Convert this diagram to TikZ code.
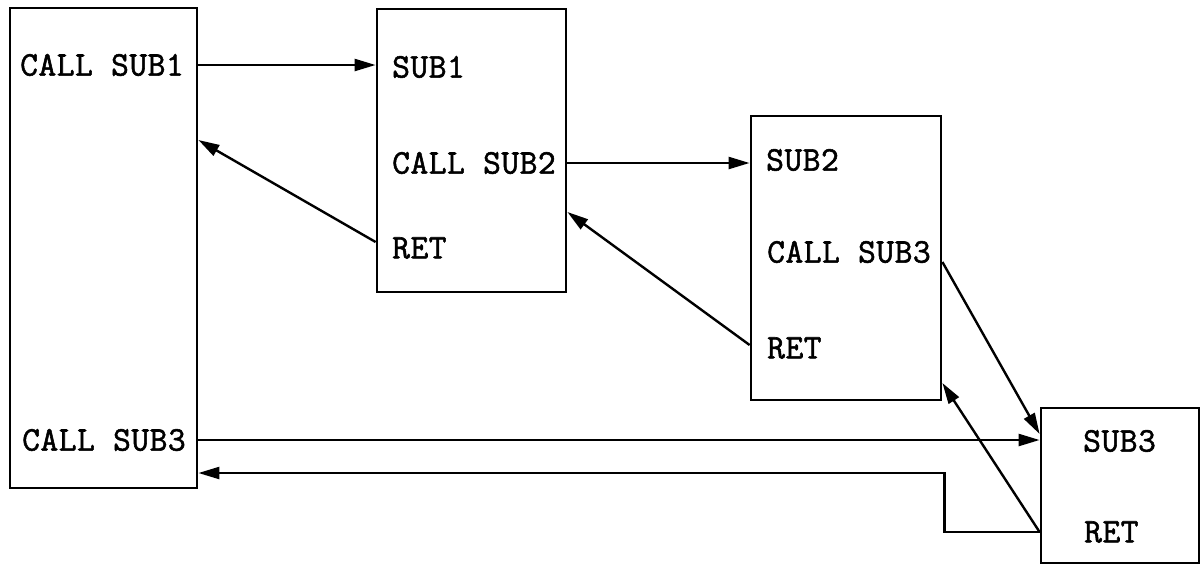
\documentclass[tikz,border=0pt]{standalone}
\usepackage{fontspec}
\newfontfamily\plotmono{Latin Modern Mono}[FakeBold=1.6,LetterSpace=1.5]
\usetikzlibrary{arrows.meta,calc}
\begin{document}
\begin{tikzpicture}[x=1pt,y=-1pt,
  box/.style={draw,line width=2.8pt,inner sep=0pt,minimum width=#1},
  lbl/.style={anchor=west,inner sep=0pt,font=\fontsize{34.5}{34.5}\selectfont\plotmono},
  conn/.style={line width=2.4pt,-{Triangle[length=21pt,width=12pt]}}]
\useasboundingbox (0,0) rectangle (1202,566);
% boxes
\node[box=187pt,minimum height=480pt] (A) at (103.5,248) {};
\node[box=189pt,minimum height=283pt] (B) at (471.5,150.5) {};
\node[box=190pt,minimum height=284pt] (C) at (846,258) {};
\node[box=158pt,minimum height=155pt] (D) at (1120,485.5) {};
% texts
\node[lbl] (a1) at (20,65) {CALL SUB1};
\node[lbl] (a3) at (22,440) {CALL SUB3};
\node[lbl] (b1) at (392,67) {SUB1};
\node[lbl] (b2) at (392,163) {CALL SUB2};
\node[lbl] (b3) at (392,248) {RET};
\node[lbl] (c1) at (766,160) {SUB2};
\node[lbl] (c2) at (767,252) {CALL SUB3};
\node[lbl] (c3) at (767,348) {RET};
\node[lbl] (d1) at (1083,441) {SUB3};
\node[lbl] (d2) at (1084,532) {RET};
% coordinates
\coordinate (rA1) at (A.east |- 0,140);
\coordinate (rB) at (B.east |- 0,212);
\coordinate (cC) at (C.east |- 0,262);
\coordinate (inD) at (D.west |- 0,434);
\coordinate (rC) at (C.east |- 0,383);
\coordinate (rA3) at (A.east |- 0,473);
% connectors
\draw[conn] (a1 -| A.east) -- (a1 -| B.west);
\draw[conn] (B.west |- 0,242) -- (rA1);
\draw[conn] (b2 -| B.east) -- (b2 -| C.west);
\draw[conn] (C.west |- 0,345) -- (rB);
\draw[conn] (cC) -- (inD);
\draw[conn] (a3 -| A.east) -- (a3 -| D.west);
\draw[conn] (d2 -| D.west) -- (rC);
\draw[conn] (d2 -| D.west) -- ++(-95,0) |- (rA3);
\end{tikzpicture}
\end{document}
